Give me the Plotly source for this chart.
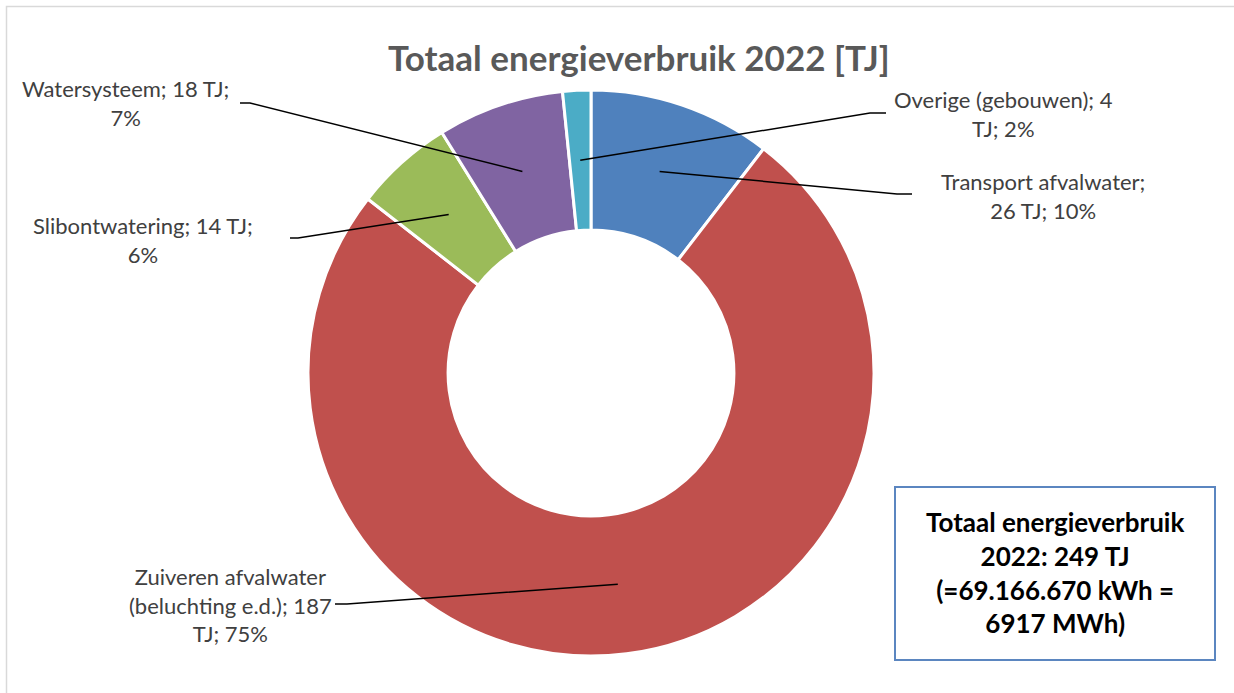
import math
import textwrap
import plotly.graph_objects as go

# ---------------- data ----------------
categories = ["Transport afvalwater", "Zuiveren afvalwater (beluchting e.d.)",
              "Slibontwatering", "Watersysteem", "Overige (gebouwen)"]
values_tj = [26, 187, 14, 18, 4]
colors = ["#4F81BD", "#C0504D", "#9BBB59", "#8064A2", "#4BACC6"]
title_text = "Totaal energieverbruik 2022 [TJ]"
box_lines = ["Totaal energieverbruik", "2022: 249 TJ", "(=69.166.670 kWh =", "6917 MWh)"]

# ---------------- layout constants (pixels) ----------------
W, H = 1234, 693
CX, CY, R_OUT = 591, 373, 283
HOLE = 0.505
wrap_width = [21, 22, 23, 20, 21]
# label text centre (x, first-line y) and leader elbow / end points
label_pos = [(1043, 181), (230, 576), (143, 225), (125, 88), (1003, 99)]
leader_end = [((897, 194), (912, 194)), ((347, 604), (335, 604)),
              ((298, 238), (290, 238)), ((250, 103), (240, 103)),
              ((870, 113), (886, 113))]


def px(x):
    return x / W


def py(y):
    return 1 - y / H


total = sum(values_tj)
fig = go.Figure(go.Pie(
    values=values_tj, labels=categories, sort=False, direction="clockwise",
    rotation=0, hole=HOLE, textinfo="none", hoverinfo="label+value+percent",
    marker=dict(colors=colors, line=dict(color="white", width=3)),
    domain=dict(x=[px(CX - R_OUT), px(CX + R_OUT)], y=[py(CY + R_OUT), py(CY - R_OUT)]),
    showlegend=False,
))

shapes = []
annotations = []
# chart frame
shapes.append(dict(type="rect", xref="paper", yref="paper", x0=px(6.5), y0=-0.05,
                   x1=1.05, y1=py(6.5), line=dict(color="#D9D9D9", width=1.5)))

cum = 0
r_mid = R_OUT * (1 + HOLE) / 2
for i, (cat, v) in enumerate(zip(categories, values_tj)):
    mid = (cum + v / 2) / total * 2 * math.pi
    cum += v
    ax = CX + r_mid * math.sin(mid)
    ay = CY - r_mid * math.cos(mid)
    (ex, ey), (fx, fy) = leader_end[i]
    shapes.append(dict(type="path", xref="paper", yref="paper",
                       path=f"M {px(ax)},{py(ay)} L {px(ex)},{py(ey)} L {px(fx)},{py(fy)}",
                       line=dict(color="black", width=1.5)))
    pct = round(v / total * 100)
    txt = "<br>".join(textwrap.wrap(f"{cat}; {v} TJ; {pct}%", wrap_width[i]))
    lx, ly = label_pos[i]
    annotations.append(dict(x=px(lx), y=py(ly - 15), xref="paper", yref="paper",
                            xanchor="center", yanchor="top", align="center",
                            text=txt, showarrow=False,
                            font=dict(family="Lato", size=22, color="#404040")))

# title
annotations.append(dict(x=px(639), y=py(57), xref="paper", yref="paper",
                        xanchor="center", yanchor="middle", text=f"<b>{title_text}</b>",
                        showarrow=False, font=dict(family="Lato", size=35, color="#595959")))

# total box
shapes.append(dict(type="rect", xref="paper", yref="paper", x0=px(895), y0=py(660),
                   x1=px(1215), y1=py(487), line=dict(color="#5B86C0", width=2),
                   fillcolor="white", layer="above"))
annotations.append(dict(x=px(1055), y=py(572), xref="paper", yref="paper",
                        xanchor="center", yanchor="middle", align="center",
                        text="<b>" + "<br>".join(box_lines) + "</b>", showarrow=False,
                        font=dict(family="Lato", size=26, color="black")))

fig.update_layout(width=W, height=H, autosize=False,
                  margin=dict(l=0, r=0, t=0, b=0),
                  paper_bgcolor="white", plot_bgcolor="white",
                  shapes=shapes, annotations=annotations)
fig.write_html("out.html", config={"displayModeBar": False},
               post_script="document.body.style.margin='0';document.body.style.overflow='hidden';")
